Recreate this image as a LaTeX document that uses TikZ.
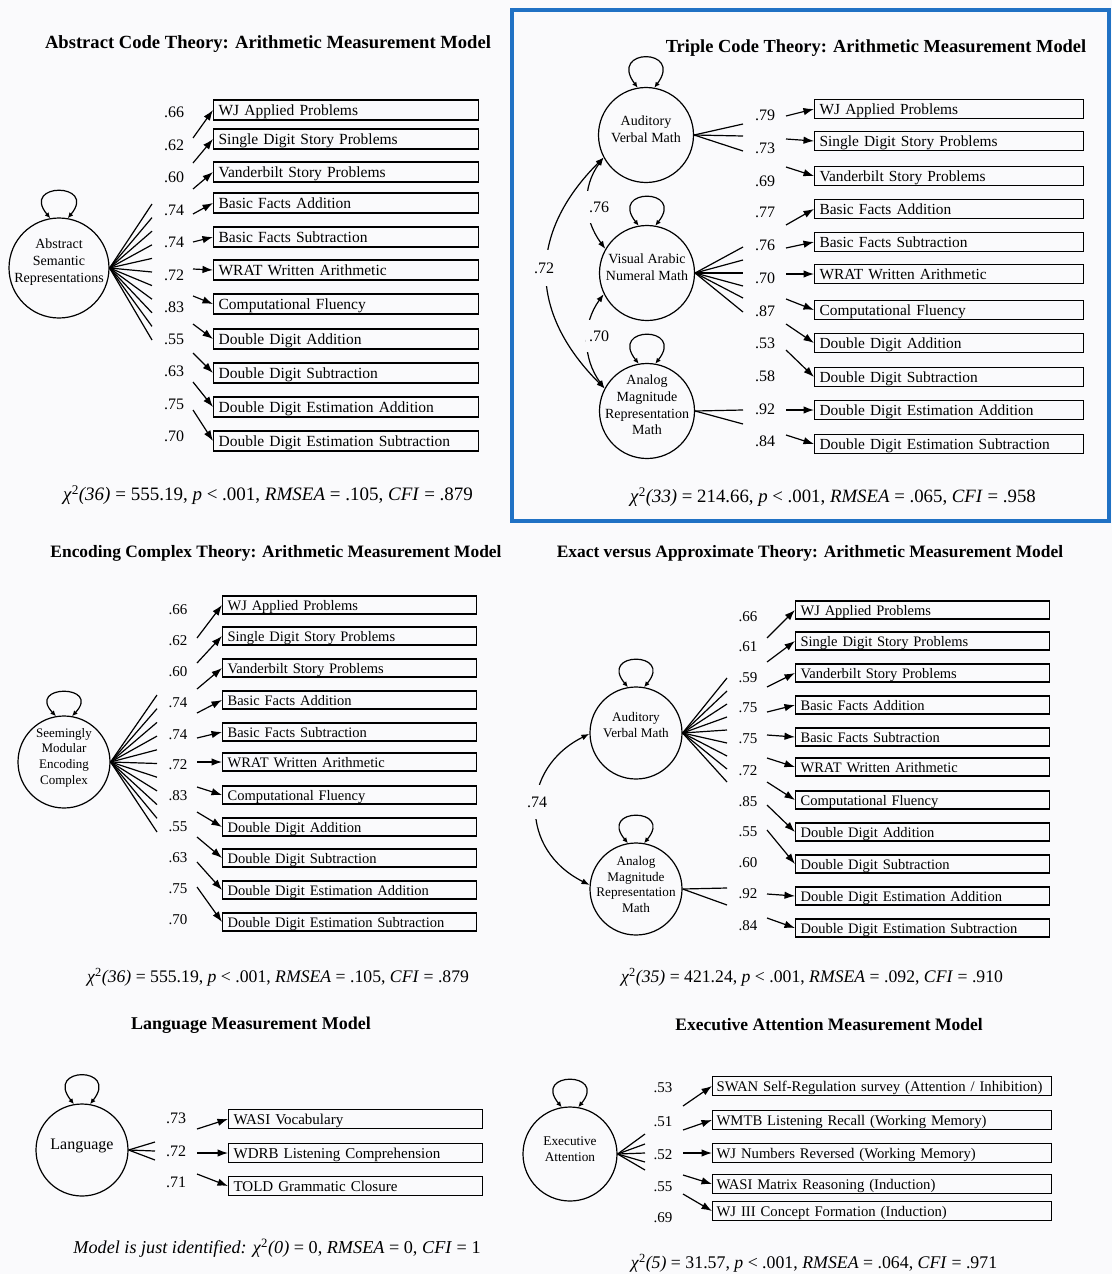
\documentclass[tikz,border=0pt]{standalone}
\usepackage{fontspec}
\setmainfont{Liberation Serif}
\usetikzlibrary{arrows.meta}
\definecolor{bg}{RGB}{250,250,252}
\definecolor{frameblue}{RGB}{32,113,196}
\tikzset{
  lat/.style={circle, draw, line width=1.2pt, inner sep=0pt},
  lattext/.style={align=center, inner sep=0pt},
  obs/.style={draw, line width=1.2pt, anchor=west, inner xsep=5pt, inner ysep=0pt, align=left, text height=12.5pt, text depth=1pt},
  numlab/.style={inner sep=1pt},
  arr/.style={-{Latex[length=10.5pt,width=7.5pt]}},
  lp/.style={{Latex[length=5.5pt,width=5pt]}-{Latex[length=5.5pt,width=5pt]}},
  cor/.style={{Latex[length=8pt,width=6pt]}-{Latex[length=8pt,width=6pt]}},
  corlab/.style={fill=bg, inner xsep=3pt, inner ysep=11pt, font=\fontsize{16}{18}\selectfont},
  ttl/.style={font=\bfseries\fontsize{18}{20}\selectfont},
  fitt/.style={font=\fontsize{18}{20}\selectfont},
}
\begin{document}
\begin{tikzpicture}[x=1pt,y=-1pt,line width=1.2pt]
\useasboundingbox (0,0) rectangle (1112,1274);
\fill[bg] (0,0) rectangle (1112,1274);
\draw[frameblue, line width=4pt] (512,10) rectangle (1109,521);

% ================= Panel 1: Abstract Code =================
\node[ttl, font=\bfseries\fontsize{18.6}{20}\selectfont] (p1title) at (268,44) {Abstract Code Theory: Arithmetic Measurement Model};
\node[lat, minimum size=100pt] (p1c) at (59,268) {};
\node[lattext, font=\fontsize{14}{17}\selectfont] (p1ct) at ([yshift=6pt]p1c.center) {Abstract\\Semantic\\Representations};
\draw[lp] (p1c.100) .. controls +(-30,-36) and +(30,-36) .. (p1c.80);
\foreach \k in {0,...,10} {\coordinate (p1f\k) at (152,{204+13.6*\k}); \draw (p1c.east) -- (p1f\k);}
\foreach \ia/\la/\nv/\yb/\yn/\yt in {
1/WJ Applied Problems/.66/110/112/138,
2/Single Digit Story Problems/.62/139/145/163,
3/Vanderbilt Story Problems/.60/172/177/189,
4/Basic Facts Addition/.74/203/210/214,
5/Basic Facts Subtraction/.74/237/242/242,
6/WRAT Written Arithmetic/.72/270/275/269,
7/Computational Fluency/.83/304/307/296,
8/Double Digit Addition/.55/339/339/324,
9/Double Digit Subtraction/.63/373/371/353,
10/Double Digit Estimation Addition/.75/407/404/382,
11/Double Digit Estimation Subtraction/.70/441/436/410} {
  \node[obs, text width=255pt, minimum height=20pt, font=\fontsize{15.5}{17}\selectfont] (p1b\ia) at (213,\yb) {\la};
  \node[numlab, font=\fontsize{16}{18}\selectfont] (p1n\ia) at (174,\yn) {\nv};
  \coordinate (p1t\ia) at (193,\yt);
  \draw[arr] (p1t\ia) -- (p1b\ia.west);
}
\node[fitt, font=\fontsize{19}{21}\selectfont] (p1fit) at (268,495) {\textit{χ}\textsuperscript{2}\textit{(36)} = 555.19, \textit{p} < .001, \textit{RMSEA} = .105, \textit{CFI} = .879};

% ================= Panel 2: Triple Code =================
\node[ttl, font=\bfseries\fontsize{18.4}{20}\selectfont] (p2title) at (876,48) {Triple Code Theory: Arithmetic Measurement Model};
\node[lat, minimum size=95pt] (p2a) at (646,135) {};
\node[lat, minimum size=95pt] (p2v) at (647,273) {};
\node[lat, minimum size=95pt] (p2m) at (647,411) {};
\node[lattext, font=\fontsize{14}{16.7}\selectfont] (p2at) at ([yshift=6pt]p2a.center) {Auditory\\Verbal Math};
\node[lattext, font=\fontsize{14}{16.7}\selectfont] (p2vt) at ([yshift=6pt]p2v.center) {Visual Arabic\\Numeral Math};
\node[lattext, font=\fontsize{14}{16.7}\selectfont] (p2mt) at ([yshift=6pt]p2m.center) {Analog\\Magnitude\\Representation\\Math};
\draw[lp] (p2a.100) .. controls +(-30,-40) and +(30,-40) .. (p2a.80);
\draw[lp] (p2v.100) .. controls +(-30,-38) and +(30,-38) .. (p2v.80);
\draw[lp] (p2m.100) .. controls +(-30,-38) and +(30,-38) .. (p2m.80);
\draw[cor] (p2a.208) .. controls +(-76,76) and +(-76,-76) .. (p2m.152);
\draw[cor] (p2a.208) .. controls +(-22,30) and +(-22,-30) .. (p2v.150);
\draw[cor] (p2v.206) .. controls +(-22,30) and +(-22,-30) .. (p2m.152);
\node[corlab] (p2r1) at (599,207) {.76};
\node[corlab] (p2r2) at (599,336) {.70};
\node[corlab, inner ysep=13pt] (p2r3) at (544,268) {.72};
\foreach \k/\yy in {1/124,2/136,3/151} {\coordinate (p2fa\k) at (743,\yy); \draw (p2a.east) -- (p2fa\k);}
\foreach \k/\yy in {1/247,2/260,3/273,4/286,5/298,6/312} {\coordinate (p2fv\k) at (743,\yy); \draw (p2v.east) -- (p2fv\k);}
\foreach \k/\yy in {1/410,2/424} {\coordinate (p2fm\k) at (743,\yy); \draw (p2m.east) -- (p2fm\k);}
\foreach \ia/\la/\nv/\yb/\yn/\yt in {
1/WJ Applied Problems/.79/109/115/116,
2/Single Digit Story Problems/.73/141/148/139,
3/Vanderbilt Story Problems/.69/176/181/167,
4/Basic Facts Addition/.77/209/212/225,
5/Basic Facts Subtraction/.76/242/245/248,
6/WRAT Written Arithmetic/.70/274/278/274,
7/Computational Fluency/.87/310/311/299,
8/Double Digit Addition/.53/343/343/324,
9/Double Digit Subtraction/.58/377/376/350,
10/Double Digit Estimation Addition/.92/410/409/410,
11/Double Digit Estimation Subtraction/.84/444/441/435} {
  \node[obs, text width=259pt, minimum height=19pt, font=\fontsize{15.4}{17}\selectfont] (p2b\ia) at (814,\yb) {\la};
  \node[numlab, font=\fontsize{16}{18}\selectfont] (p2n\ia) at (765,\yn) {\nv};
  \coordinate (p2t\ia) at (786,\yt);
  \draw[arr] (p2t\ia) -- (p2b\ia.west);
}
\node[fitt, font=\fontsize{18.8}{21}\selectfont] (p2fit) at (833,497) {\textit{χ}\textsuperscript{2}\textit{(33)} = 214.66, \textit{p} < .001, \textit{RMSEA} = .065, \textit{CFI} = .958};

% ================= Panel 3: Encoding Complex =================
\node[ttl, font=\bfseries\fontsize{17.4}{20}\selectfont] (p3title) at (276,553) {Encoding Complex Theory: Arithmetic Measurement Model};
\node[lat, minimum size=92pt] (p3c) at (64,762) {};
\node[lattext, font=\fontsize{13}{15.7}\selectfont] (p3ct) at ([yshift=4.5pt]p3c.center) {Seemingly\\Modular\\Encoding\\Complex};
\draw[lp] (p3c.100) .. controls +(-30,-32) and +(30,-32) .. (p3c.80);
\foreach \k in {0,...,10} {\coordinate (p3f\k) at (157,{695+13.7*\k}); \draw (p3c.east) -- (p3f\k);}
\foreach \ia/\la/\nv/\yb/\yn/\yt in {
1/WJ Applied Problems/.66/605/610/638,
2/Single Digit Story Problems/.62/636/641/663,
3/Vanderbilt Story Problems/.60/668/672/689,
4/Basic Facts Addition/.74/700/703/713,
5/Basic Facts Subtraction/.74/732/735/738,
6/WRAT Written Arithmetic/.72/762/765/762,
7/Computational Fluency/.83/795/796/787,
8/Double Digit Addition/.55/827/827/812,
9/Double Digit Subtraction/.63/858/858/837,
10/Double Digit Estimation Addition/.75/890/889/862,
11/Double Digit Estimation Subtraction/.70/922/920/887} {
  \node[obs, text width=244pt, minimum height=18pt, text height=11.5pt, font=\fontsize{14.5}{16}\selectfont] (p3b\ia) at (222,\yb) {\la};
  \node[numlab, font=\fontsize{15}{17}\selectfont] (p3n\ia) at (178,\yn) {\nv};
  \coordinate (p3t\ia) at (197,\yt);
  \draw[arr] (p3t\ia) -- (p3b\ia.west);
}
\node[fitt, font=\fontsize{17.7}{20}\selectfont] (p3fit) at (278,977) {\textit{χ}\textsuperscript{2}\textit{(36)} = 555.19, \textit{p} < .001, \textit{RMSEA} = .105, \textit{CFI} = .879};

% ================= Panel 4: Exact versus Approximate =================
\node[ttl, font=\bfseries\fontsize{17.4}{20}\selectfont] (p4title) at (810,553) {Exact versus Approximate Theory: Arithmetic Measurement Model};
\node[lat, minimum size=92pt] (p4a) at (636,733) {};
\node[lat, minimum size=92pt] (p4m) at (636,889) {};
\node[lattext, font=\fontsize{13.2}{15.7}\selectfont] (p4at) at ([yshift=8pt]p4a.center) {Auditory\\Verbal Math};
\node[lattext, font=\fontsize{13.2}{15.7}\selectfont] (p4mt) at ([yshift=4.5pt]p4m.center) {Analog\\Magnitude\\Representation\\Math};
\draw[lp] (p4a.100) .. controls +(-30,-36) and +(30,-36) .. (p4a.80);
\draw[lp] (p4m.100) .. controls +(-30,-36) and +(30,-36) .. (p4m.80);
\draw[cor] (p4a.181) .. controls +(-70,35) and +(-70,-35) .. (p4m.175);
\node[corlab, inner ysep=12pt] (p4r1) at (537,802) {.74};
\foreach \k in {0,...,8} {\coordinate (p4fa\k) at (727,{678+13*\k}); \draw (p4a.east) -- (p4fa\k);}
\foreach \k/\yy in {1/888,2/905} {\coordinate (p4fm\k) at (727,\yy); \draw (p4m.east) -- (p4fm\k);}
\foreach \ia/\la/\nv/\yb/\yn/\yt in {
1/WJ Applied Problems/.66/610/617/638,
2/Single Digit Story Problems/.61/641/647/662,
3/Vanderbilt Story Problems/.59/673/678/687,
4/Basic Facts Addition/.75/705/708/712,
5/Basic Facts Subtraction/.75/737/739/735,
6/WRAT Written Arithmetic/.72/767/771/758,
7/Computational Fluency/.85/800/802/782,
8/Double Digit Addition/.55/832/832/805,
9/Double Digit Subtraction/.60/864/863/830,
10/Double Digit Estimation Addition/.92/896/894/894,
11/Double Digit Estimation Subtraction/.84/928/926/918} {
  \node[obs, text width=244pt, minimum height=18pt, text height=11.5pt, font=\fontsize{14.5}{16}\selectfont] (p4b\ia) at (795,\yb) {\la};
  \node[numlab, font=\fontsize{15}{17}\selectfont] (p4n\ia) at (748,\yn) {\nv};
  \coordinate (p4t\ia) at (767,\yt);
  \draw[arr] (p4t\ia) -- (p4b\ia.west);
}
\node[fitt, font=\fontsize{17.7}{20}\selectfont] (p4fit) at (812,977) {\textit{χ}\textsuperscript{2}\textit{(35)} = 421.24, \textit{p} < .001, \textit{RMSEA} = .092, \textit{CFI} = .910};

% ================= Panel 5: Language =================
\node[ttl] (p5title) at (251,1025) {Language Measurement Model};
\node[lat, minimum size=92pt] (p5c) at (82,1150) {};
\node[lattext, font=\fontsize{16}{18}\selectfont] (p5ct) at ([yshift=4pt]p5c.center) {Language};
\draw[lp] (p5c.100) .. controls +(-30,-38) and +(30,-38) .. (p5c.80);
\foreach \k/\yy in {1/1142,2/1151,3/1160} {\coordinate (p5f\k) at (155,\yy); \draw (p5c.east) -- (p5f\k);}
\foreach \ia/\la/\nv/\yb/\yn/\yt in {
1/WASI Vocabulary/.73/1119/1118/1129,
2/WDRB Listening Comprehension/.72/1153/1151/1153,
3/TOLD Grammatic Closure/.71/1186/1182/1174} {
  \node[obs, text width=244pt, minimum height=19pt, font=\fontsize{15}{17}\selectfont] (p5b\ia) at (228,\yb) {\la};
  \node[numlab, font=\fontsize{16}{18}\selectfont] (p5n\ia) at (176,\yn) {\nv};
  \coordinate (p5t\ia) at (197,\yt);
  \draw[arr] (p5t\ia) -- (p5b\ia.west);
}
\node[fitt, font=\fontsize{18.2}{20}\selectfont] (p5fit) at (277,1248) {\textit{Model is just identified: χ}\textsuperscript{2}\textit{(0)} = 0, \textit{RMSEA} = 0, \textit{CFI} = 1};

% ================= Panel 6: Executive Attention =================
\node[ttl, font=\bfseries\fontsize{17.5}{20}\selectfont] (p6title) at (829,1025) {Executive Attention Measurement Model};
\node[lat, minimum size=94pt] (p6c) at (570,1154) {};
\node[lattext, font=\fontsize{13.3}{16}\selectfont] (p6ct) at ([yshift=5pt]p6c.center) {Executive\\Attention};
\draw[lp] (p6c.100) .. controls +(-30,-36) and +(30,-36) .. (p6c.80);
\foreach \k/\yy in {1/1134,2/1144,3/1153,4/1162,5/1170} {\coordinate (p6f\k) at (645,\yy); \draw (p6c.east) -- (p6f\k);}
\tikzset{obs6/.style={obs, text width=331pt, minimum height=19pt, inner xsep=4pt, font=\fontsize{14.7}{16}\selectfont}, num6/.style={numlab, font=\fontsize{15}{17}\selectfont}}
\node[obs6] (p6b1) at (712,1086) {SWAN Self-Regulation survey (Attention / Inhibition)};
\node[obs6] (p6b2) at (712,1120) {WMTB Listening Recall (Working Memory)};
\node[obs6] (p6b3) at (712,1153) {WJ Numbers Reversed (Working Memory)};
\node[obs6] (p6b4) at (712,1184) {WASI Matrix Reasoning (Induction)};
\node[obs6] (p6b5) at (712,1211) {WJ III Concept Formation (Induction)};
\node[num6] (p6n1) at (663,1088) {.53};
\node[num6] (p6n2) at (663,1122) {.51};
\node[num6] (p6n3) at (663,1155) {.52};
\node[num6] (p6n4) at (663,1187) {.55};
\node[num6] (p6n5) at (663,1218) {.69};
\foreach \ia/\yt in {1/1106,2/1130,3/1153,4/1175,5/1194} {
  \coordinate (p6t\ia) at (683,\yt);
  \draw[arr] (p6t\ia) -- (p6b\ia.west);
}
\node[fitt, font=\fontsize{17.8}{20}\selectfont] (p6fit) at (814,1263) {\textit{χ}\textsuperscript{2}\textit{(5)} = 31.57, \textit{p} < .001, \textit{RMSEA} = .064, \textit{CFI} = .971};
\end{tikzpicture}
\end{document}
